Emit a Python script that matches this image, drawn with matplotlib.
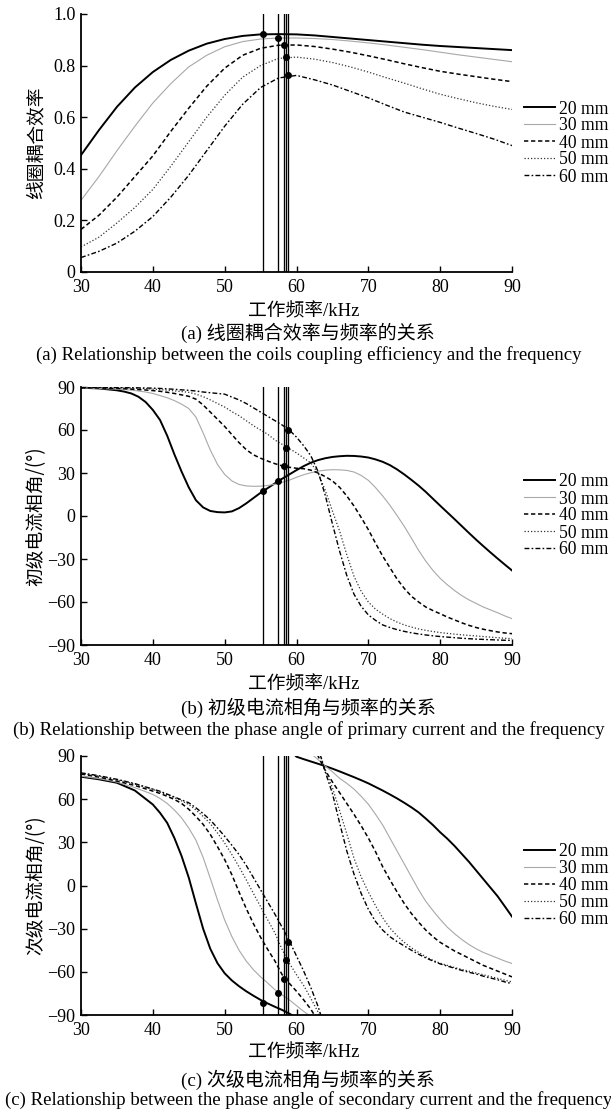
import numpy as np
import matplotlib
matplotlib.use("Agg")
import matplotlib.pyplot as plt
from matplotlib.lines import Line2D

nan = np.nan
labels = ["20 mm", "30 mm", "40 mm", "50 mm", "60 mm"]

# ---------------- (a) coupling efficiency ----------------
fa = [30, 32.5, 35, 37.5, 40, 42.5, 45, 47.5, 50, 52.5, 55, 57.5, 60,
      62.5, 65, 67.5, 70, 72.5, 75, 77.5, 80, 82.5, 85, 87.5, 90]
a20 = [.453, .55, .64, .715, .775, .822, .858, .885, .903, .915, .921, .922, .921,
       .917, .911, .905, .899, .893, .887, .881, .876, .872, .868, .864, .860]
a30 = [.278, .37, .47, .565, .655, .73, .795, .84, .873, .893, .903, .907, .907,
       .905, .901, .895, .888, .88, .871, .862, .852, .842, .833, .824, .815]
a40 = [.165, .22, .29, .37, .45, .545, .635, .72, .79, .84, .867, .879, .880,
       .874, .864, .852, .838, .823, .807, .792, .778, .767, .757, .747, .738]
a50 = [.097, .135, .19, .25, .32, .41, .505, .60, .685, .755, .80, .828, .833,
       .825, .812, .795, .775, .753, .732, .71, .689, .672, .656, .642, .63]
a60 = [.056, .08, .112, .158, .215, .29, .375, .47, .565, .65, .715, .752, .762,
       .745, .725, .70, .675, .647, .62, .60, .58, .558, .537, .515, .49]

# operating frequencies (vertical lines) and the marked values
f_op = [55.4, 57.4, 58.25, 58.5, 58.85]
a_mark = [0.922, 0.907, 0.880, 0.834, 0.762]

# ---------------- (b) primary current phase ----------------
fb = [30, 32.5] + list(range(35, 91))
b20 = [89.5, 89, 87.7, 86.8, 85.5, 83.2, 79.5,
       74, 67, 56, 43, 31, 20, 11, 6, 3.5, 2.7, 2.5, 3.2, 5.5, 8.8, 12.5, 16.2, 19.5, 22.8, 26, 29,
       32, 34.8, 37.2, 39, 40.3, 41.2, 41.7, 42, 41.9, 41.5, 40.8, 39.5, 37.8, 35.5, 32.5, 29,
       25.2, 21.2, 16.8, 12, 7.2, 2.5, -2.2, -7, -11.8, -16.5, -21, -25.4, -29.7, -33.9, -38]
b30 = [89.5, 89, 88.5, 88.2, 87.8, 87.2, 86.5,
       85.5, 84, 82.5, 80.5, 78, 75, 69, 58, 46, 36, 29, 24.5, 22, 21, 20.7, 20.8, 21.3, 22.2, 23.5, 25,
       27, 28.8, 30.2, 31.3, 32, 32.3, 32.2, 31.8, 30.7, 28.3, 24.9, 19.8, 14, 7.5, 0.3, -7.2,
       -15.5, -24, -31.5, -38, -43.5, -48, -52, -55.5, -58.5, -61, -63.5, -65.5, -67.5, -69.7, -71.6]
b40 = [89.5, 89.3, 89, 88.8, 88.5, 88.2, 87.9,
       87.5, 87, 86.3, 85.5, 84.5, 83.5, 81.5, 77.5, 72.5, 67.5, 62.5, 56.8, 51.2, 46.3, 42.7, 40.3, 38.3, 36.5, 35, 34,
       33.3, 33, 32, 30, 27.5, 24.5, 20, 14, 7, -1, -9.5, -19, -28, -36, -44, -50.5,
       -56, -60, -63.5, -66, -68.2, -70.5, -72.5, -74.5, -76.3, -77.8, -79, -80, -80.9, -81.6, -82.1]
b50 = [89.7, 89.6, 89.4, 89.3, 89.2, 89.1, 88.8,
       88.5, 88.2, 87.8, 87.3, 86.8, 86.3, 85, 83.3, 81, 78.5, 76, 72.8, 70, 66.5, 63, 60, 57, 53, 50, 47,
       44, 40.5, 37, 30, 18, 3.5, -10.5, -27, -42, -52.5, -60, -65, -68.5, -71.6, -74, -76,
       -77.5, -78.8, -79.8, -80.6, -81.3, -81.9, -82.4, -82.9, -83.3, -83.7, -84.1, -84.5, -84.9, -85.3, -85.6]
b60 = [89.8, 89.8, 89.6, 89.5, 89.5, 89.4, 89.3,
       89.2, 89, 88.7, 88.4, 88, 87.7, 87.2, 86.5, 86, 85.5, 85, 83, 81, 78.5, 75.5, 72.5, 69.5, 66.5, 63.5, 60,
       55, 49, 42, 31, 14.5, -5.5, -24.5, -41.5, -54.5, -63, -69, -72.8, -76, -77.8, -79.3, -80.5,
       -81.5, -82.3, -83, -83.6, -84.1, -84.5, -84.9, -85.3, -85.6, -85.9, -86.1, -86.3, -86.5, -86.7, -86.8]
b_mark = [17.2, 24.2, 34.7, 47.5, 60.2]

# ---------------- (c) secondary current phase (nan = wrap from -90 to +90) ----------------
c20_f = [30, 32.5, 35, 37.5, 40, 41, 42, 43, 44, 45, 46, 47, 48, 49, 50, 51, 52, 53, 54, 55, 56, 57, 58, 59, 59.5,
         nan, 59.8, 60, 61, 62, 63, 64, 65, 66, 67, 68, 69, 70, 71, 72, 73, 74, 75, 76, 77, 78, 79, 80,
         81, 82, 83, 84, 85, 86, 87, 88, 89, 90]
c20_v = [75.6, 73.8, 71.4, 66, 56.3, 50.5, 43.5, 33, 20.5, 5.5, -12.5, -30, -44, -54, -61, -66, -70, -73.5,
         -76.6, -79.5, -82, -84.3, -86.5, -89, -90.5,
         nan, 90.5, 89.5, 87.8, 86.2, 84.6, 83, 81.2, 79.3, 77.3, 75.3, 73.2, 71, 68.5, 66, 63.3, 60.5, 57.5,
         54.3, 50.8, 46.5, 42, 37, 32.5, 27.5, 22, 16.5, 10.5, 4.5, -1.5, -7.5, -14.5, -21.6]
c30_f = [30, 32.5, 35, 37.5, 40, 41, 42, 43, 44, 45, 46, 47, 48, 49, 50, 51, 52, 53, 54, 55, 56, 57, 58, 59, 60,
         61, 62, nan, 62.3, 63, 64, 65, 66, 67, 68, 69, 70, 71, 72, 73, 74, 75, 76, 77, 78, 79, 80,
         81, 82, 83, 84, 85, 86, 87, 88, 89, 90]
c30_v = [76, 74.3, 71.9, 68, 63.3, 60.5, 57, 52.5, 47, 40, 31.5, 19.5, 5, -10, -24, -35.5, -45, -52.5, -58.5,
         -63.5, -67.8, -72.5, -76, -79.5, -83.5, -87.5, -91,
         nan, 90.5, 87.5, 83, 79, 74.5, 71, 67, 62, 56.5, 49.5, 42, 33, 24, 15, 6, -3, -11, -17.5, -23.5,
         -29, -33.5, -37.5, -41, -44, -46.5, -48.5, -50.5, -52.5, -54.2]
c40_f = [30, 32.5, 35, 37.5, 40, 41, 42, 43, 44, 45, 46, 47, 48, 49, 50, 51, 52, 53, 54, 55, 56, 57, 58, 59, 60,
         61, 62, 62.6, nan, 62.9, 64, 65, 66, 67, 68, 69, 70, 71, 72, 73, 74, 75, 76, 77, 78, 79, 80,
         81, 82, 83, 84, 85, 86, 87, 88, 89, 90]
c40_v = [77.5, 75.3, 72.6, 69.5, 65.6, 64, 62, 59.8, 57, 53, 48, 42.5, 35.5, 27, 18, 7.5, -4.5, -16, -26.5, -36,
         -44.5, -52.5, -62, -68, -73.5, -79.5, -86, -91,
         nan, 91, 80, 72, 64.5, 57, 49.5, 41.5, 33, 23.5, 13, 4, -4.5, -12.5, -19.5, -25.5, -31, -35.6, -39.5,
         -42.5, -45.5, -48, -50.5, -53, -55.5, -57.5, -59.5, -61.5, -63.5]
c50_f = [30, 32.5, 35, 37.5, 40, 41, 42, 43, 44, 45, 46, 47, 48, 49, 50, 51, 52, 53, 54, 55, 56, 57, 58, 59, 60,
         61, 62, 63, 63.2, nan, 63.3, 64, 65, 66, 67, 68, 69, 70, 71, 72, 73, 74, 75, 76, 77, 78, 79, 80,
         81, 82, 83, 84, 85, 86, 87, 88, 89, 90]
c50_v = [78, 76, 73.5, 70.5, 66.8, 65, 63, 61, 58.8, 56.3, 52.5, 48, 43, 36.5, 29.5, 21.5, 13, 4, -5.5, -14.7,
         -24, -33, -44.5, -54, -62, -69.5, -78.5, -88, -91,
         nan, 91, 80.5, 68, 52, 36, 19, 6, -4.5, -14, -22.5, -29.5, -35, -39.5, -43.3, -46.5, -49.5, -52, -54,
         -55.5, -57, -58.3, -59.5, -60.8, -62, -63.3, -64.5, -65.8, -67]
c60_f = [30, 32.5, 35, 37.5, 40, 41, 42, 43, 44, 45, 46, 47, 48, 49, 50, 51, 52, 53, 54, 55, 56, 57, 58, 59, 60,
         61, 62, 63, 63.5, nan, 63.3, 64, 65, 66, 67, 68, 69, 70, 71, 72, 73, 74, 75, 76, 77, 78, 79, 80,
         81, 82, 83, 84, 85, 86, 87, 88, 89, 90]
c60_v = [78.3, 76.3, 73.8, 70.8, 67, 65.5, 63.5, 61.5, 59.5, 57.5, 54, 50, 45.5, 40, 34.2, 28, 21.5, 14, 5.5, -3,
         -11.5, -20, -29, -38.5, -49, -59.5, -71, -84, -92,
         nan, 91, 79, 64, 43.5, 24, 8, -5.5, -16.5, -25, -31, -35.6, -39, -42, -45, -47.8, -50.3, -52.5, -54.5,
         -56, -57.5, -59, -60.3, -61.5, -63, -64.3, -65.5, -67, -68.2]
c_mark = [-81.6, -74.7, -64.9, -51.9, -39.3]

# ---------------- styles ----------------
styles = [
    dict(color="black", lw=1.4, ls="-"),
    dict(color="#a8a8a8", lw=0.8, ls="-"),
    dict(color="black", lw=1.1, ls=(0, (2.8, 1.8))),
    dict(color="#333333", lw=0.9, ls=(0, (1, 1.6))),
    dict(color="black", lw=1.0, ls=(0, (3.5, 1.6, 1.2, 1.6))),
]

SERIF = ["Liberation Serif", "Noto Sans CJK SC"]
CJK = ["Noto Sans CJK SC", "DejaVu Sans"]

W, H = 611, 1113
fig = plt.figure(figsize=(W / 100, H / 100), dpi=100)


def add_axes(top, bottom, left=81, right=512):
    return fig.add_axes([left / W, 1 - bottom / H, (right - left) / W, (bottom - top) / H])


def style_axes(ax, ylim, yticks, yticklabels):
    ax.set_xlim(30, 90)
    ax.set_ylim(*ylim)
    ax.set_xticks(range(30, 91, 10))
    ax.set_yticks(yticks)
    ax.set_yticklabels(yticklabels)
    for s in ["top", "right"]:
        ax.spines[s].set_visible(False)
    for s in ["left", "bottom"]:
        ax.spines[s].set_linewidth(1.3)
    ax.tick_params(direction="in", length=4, width=1.0, labelsize=13)
    ax.tick_params(axis="x", pad=5)
    ax.tick_params(axis="y", pad=4)
    for lab in ax.get_xticklabels() + ax.get_yticklabels():
        lab.set_family(SERIF)


def draw_common(ax, marks, ylim):
    for f in f_op:
        ax.plot([f, f], [ylim[0], ylim[1]], color="black", lw=0.95, zorder=3)
    ax.plot(f_op, marks, "o", color="black", ms=4, zorder=4, clip_on=False)


def legend(ax, top, bottom):
    handles = [Line2D([], [], **st) for st in styles]
    ax.legend(handles, labels, loc="center left",
              bbox_to_anchor=(524 / W, 1 - (top + bottom) / 2 / H),
              bbox_transform=fig.transFigure, frameon=False, borderpad=0, borderaxespad=0,
              handlelength=1.75, handletextpad=0.25, labelspacing=0.0,
              prop=dict(family=SERIF, size=12.7))


def texts(ycenter_axis, ylabel, xlabel_y, cn_y, en_y, cn, en):
    fig.text(36 / W, 1 - ycenter_axis / H, ylabel, rotation=90, ha="center", va="center",
             family=CJK, fontsize=13.5)
    fig.text(304 / W, 1 - xlabel_y / H, "工作频率/kHz", ha="center", va="center",
             family=SERIF, fontsize=13.5)
    fig.text(308 / W, 1 - cn_y / H, cn, ha="center", va="center", family=SERIF, fontsize=13.7)
    fig.text(309 / W, 1 - en_y / H, en, ha="center", va="center", family=SERIF, fontsize=13.5)


# ---- panel a ----
ta, ba = 14, 272
ax = add_axes(ta, ba)
for v, st in zip([a20, a30, a40, a50, a60], styles):
    ax.plot(fa, v, **st)
draw_common(ax, a_mark, (0, 1))
style_axes(ax, (0, 1.0), [0, .2, .4, .6, .8, 1.0], ["0", "0.2", "0.4", "0.6", "0.8", "1.0"])
legend(ax, ta, ba)
texts((ta + ba) / 2, "线圈耦合效率", 312, 333, 355,
      "(a) 线圈耦合效率与频率的关系",
      "(a) Relationship between the coils coupling efficiency and the frequency")

# ---- panel b ----
tb, bb = 387, 645
ax = add_axes(tb, bb)
for v, st in zip([b20, b30, b40, b50, b60], styles):
    ax.plot(fb, v, **st)
draw_common(ax, b_mark, (-90, 90))
yt = list(range(-90, 91, 30))
style_axes(ax, (-90, 90), yt, [f"{t:d}".replace("-", "\u2212") for t in yt])
legend(ax, tb, bb)
texts((tb + bb) / 2, "初级电流相角/(°)", 685, 708, 730,
      "(b) 初级电流相角与频率的关系",
      "(b) Relationship between the phase angle of primary current and the frequency")

# ---- panel c ----
tc, bc = 756, 1015
ax = add_axes(tc, bc)
for f, v, st in zip([c20_f, c30_f, c40_f, c50_f, c60_f], [c20_v, c30_v, c40_v, c50_v, c60_v], styles):
    ax.plot(f, v, **st)
draw_common(ax, c_mark, (-90, 90))
style_axes(ax, (-90, 90), yt, [f"{t:d}".replace("-", "\u2212") for t in yt])
legend(ax, tc, bc)
texts((tc + bc) / 2, "次级电流相角/(°)", 1053, 1080, 1100,
      "(c) 次级电流相角与频率的关系",
      "(c) Relationship between the phase angle of secondary current and the frequency")

fig.savefig("out.png", dpi=100)
